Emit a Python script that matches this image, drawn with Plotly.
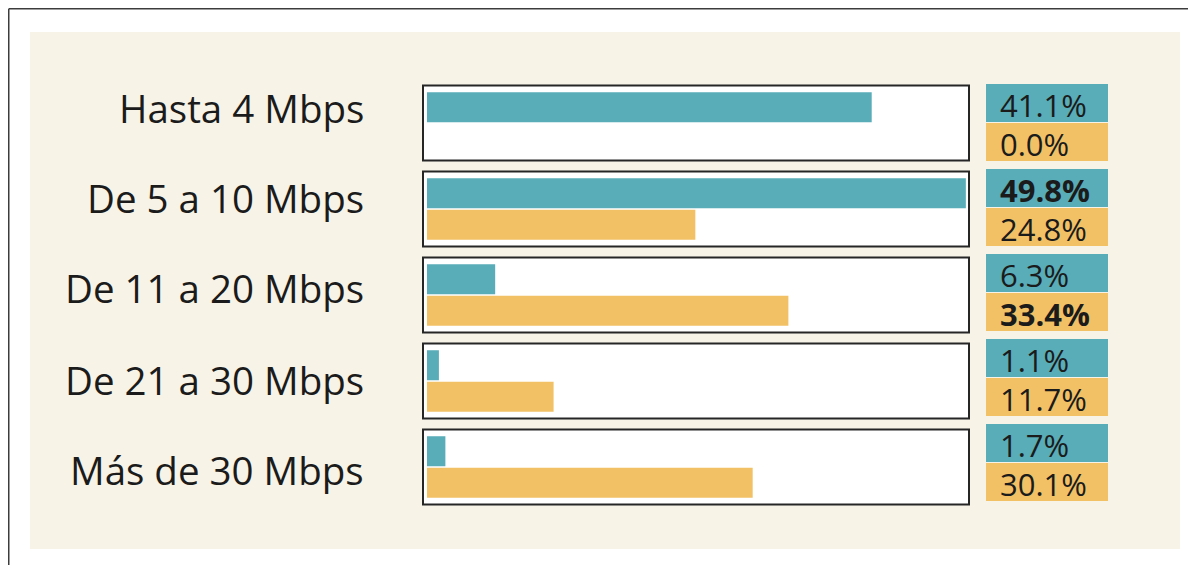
import plotly.graph_objects as go

# Rangos de velocidad y porcentajes de las dos series (turquesa / amarillo)
categorias = ["Hasta 4 Mbps", "De 5 a 10 Mbps", "De 11 a 20 Mbps",
              "De 21 a 30 Mbps", "Más de 30 Mbps"]
serie_a = [41.1, 49.8, 6.3, 1.1, 1.7]
serie_b = [0.0, 24.8, 33.4, 11.7, 30.1]

TEAL = "#58ADB8"
AMBER = "#F2C166"
CREAM = "#F7F3E7"
INK = "#1b1b1b"
FONT = "Open Sans"

# la pagina deja 8 px de margen en el body: las medidas van en px de pagina
OFF = 8
W, H = 1196 - OFF, 565 - OFF
ML, MT, PW, PH = 427, 80, 541, 430
MR, MB = W - (ML - OFF) - PW, H - (MT - OFF) - PH


def px_x(p):
    return (p - ML) / PW


def px_y(p):
    return (MT + PH - p) / PH


fig = go.Figure()
fig.add_trace(go.Bar(
    y=categorias, x=serie_a, orientation="h",
    marker=dict(color=TEAL, line=dict(width=0)),
    hoverinfo="skip", name="a",
))
fig.add_trace(go.Bar(
    y=categorias, x=serie_b, orientation="h",
    marker=dict(color=AMBER, line=dict(width=0)),
    hoverinfo="skip", name="b",
))

shapes = [
    # panel crema
    dict(type="rect", xref="paper", yref="paper", layer="below",
         x0=px_x(30), x1=px_x(1180), y0=px_y(549), y1=px_y(32),
         fillcolor=CREAM, line=dict(width=0)),
    # marco exterior (arriba e izquierda)
    dict(type="line", xref="paper", yref="paper",
         x0=px_x(OFF + 0.75), x1=px_x(1196), y0=px_y(OFF + 0.75), y1=px_y(OFF + 0.75),
         line=dict(color="#3c3c3c", width=1.5)),
    dict(type="line", xref="paper", yref="paper",
         x0=px_x(OFF + 0.75), x1=px_x(OFF + 0.75), y0=px_y(OFF + 0.75), y1=px_y(565),
         line=dict(color="#3c3c3c", width=1.5)),
]

annotations = []
label_shift = [15, 11, 7, 1, -3]
max_a, max_b = max(serie_a), max(serie_b)

for i, cat in enumerate(categorias):
    # caja blanca de cada rango
    shapes.append(dict(
        type="rect", xref="paper", yref="y", layer="below",
        x0=px_x(423), x1=px_x(969), y0=i - 0.436, y1=i + 0.436,
        fillcolor="white", line=dict(color="#262626", width=2),
    ))
    annotations.append(dict(
        text=cat, xref="paper", yref="y", x=px_x(366), y=i,
        xanchor="right", yanchor="middle", yshift=label_shift[i],
        showarrow=False, font=dict(family=FONT, size=38.5, color=INK),
    ))
    top = 84 + 85 * i
    for j, (val, color, mx) in enumerate(((serie_a[i], TEAL, max_a),
                                          (serie_b[i], AMBER, max_b))):
        y0 = top + 39 * j
        shapes.append(dict(
            type="rect", xref="paper", yref="paper", layer="below",
            x0=px_x(986), x1=px_x(1108), y0=px_y(y0 + 38), y1=px_y(y0),
            fillcolor=color, line=dict(width=0),
        ))
        txt = f"{val:.1f}%"
        bold = val == mx
        annotations.append(dict(
            text=f"<b>{txt}</b>" if bold else txt, xref="paper", yref="paper",
            x=px_x(998), y=px_y(y0 + 21),
            xanchor="left", yanchor="middle", showarrow=False,
            font=dict(family=FONT, size=31, color=INK),
        ))

fig.update_layout(
    width=W, height=H,
    margin=dict(l=ML - OFF, r=MR, t=MT - OFF, b=MB),
    barmode="group", bargap=0.267, bargroupgap=0.048,
    xaxis=dict(range=[0, 50], visible=False, fixedrange=True),
    yaxis=dict(range=[4.5, -0.5], visible=False, fixedrange=True),
    showlegend=False,
    shapes=shapes,
    annotations=annotations,
    plot_bgcolor="rgba(0,0,0,0)",
    paper_bgcolor="white",
    font=dict(family=FONT, color=INK),
)

fig.write_html("out.html", config={"displayModeBar": False})
